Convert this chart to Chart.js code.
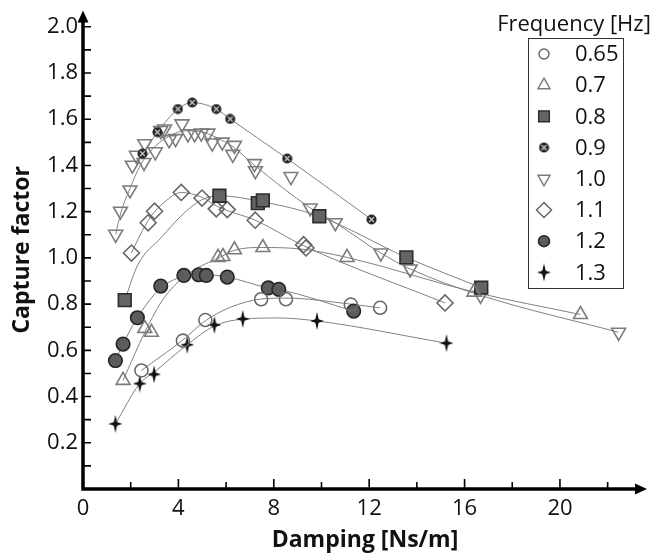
<!DOCTYPE html>
<html lang="en">
<head>
  <meta charset="UTF-8">
  <title>Capture factor vs damping</title>
  <script src="https://cdn.jsdelivr.net/npm/chart.js"></script>
  <style>
    html, body { margin: 0; padding: 0; background: #fff; }
    #wrap { width: 665px; height: 556px; }
  </style>
</head>
<body>
  <div id="wrap"><canvas id="chart" width="665" height="556"></canvas></div>

  <script>
    // tick labels shown on the axes
    const xTickLabels = ['0', '4', '8', '12', '16', '20'];
    const yTickLabels = ['0.2', '0.4', '0.6', '0.8', '1.0', '1.2', '1.4', '1.6', '1.8', '2.0'];

    // wave frequency [Hz] of each series
    const freqLabels = ['0.65', '0.7', '0.8', '0.9', '1.0', '1.1', '1.2', '1.3'];

    // measured points: [damping Ns/m, capture factor]
    const pts065 = [[2.45, 0.513], [4.19, 0.642], [5.13, 0.731], [7.47, 0.821], [8.51, 0.821], [11.23, 0.798], [12.46, 0.784]];
    const pts07 = [[1.68, 0.47], [2.59, 0.695], [2.87, 0.678], [5.66, 1.002], [5.87, 1.006], [6.35, 1.035], [7.54, 1.045], [11.07, 1.002], [16.39, 0.852], [20.86, 0.755]];
    const pts08 = [[1.75, 0.817], [5.72, 1.269], [7.33, 1.237], [7.54, 1.249], [9.91, 1.18], [13.56, 1.002], [16.7, 0.871]];
    const pts09 = [[2.49, 1.451], [3.12, 1.544], [3.98, 1.644], [4.58, 1.672], [5.59, 1.644], [6.17, 1.601], [8.56, 1.43], [12.1, 1.166]];
    const pts10 = [[1.37, 1.102], [1.57, 1.202], [1.97, 1.294], [2.07, 1.401], [2.24, 1.444], [2.56, 1.413], [2.59, 1.494], [3.03, 1.459],
                   [3.26, 1.551], [3.42, 1.558], [3.61, 1.511], [3.88, 1.516], [4.15, 1.58], [4.4, 1.537], [4.68, 1.537], [4.96, 1.54],
                   [5.24, 1.54], [5.42, 1.497], [5.84, 1.501], [6.35, 1.487], [6.28, 1.448], [7.19, 1.408], [7.23, 1.377], [8.72, 1.352],
                   [9.53, 1.216], [10.58, 1.152], [12.49, 1.021], [13.72, 0.952], [16.67, 0.838], [22.46, 0.678]];
    const pts11 = [[2.03, 1.021], [2.73, 1.152], [3.0, 1.202], [4.12, 1.283], [4.99, 1.259], [5.59, 1.212], [6.05, 1.209], [7.22, 1.163], [9.25, 1.057], [9.35, 1.043], [15.18, 0.805]];
    const pts12 = [[1.36, 0.556], [1.68, 0.627], [2.28, 0.741], [3.26, 0.878], [4.23, 0.924], [4.85, 0.927], [5.17, 0.924], [6.05, 0.917], [7.77, 0.87], [8.21, 0.864], [11.35, 0.77]];
    const pts13 = [[1.36, 0.282], [2.38, 0.456], [2.98, 0.496], [4.37, 0.624], [5.51, 0.71], [6.7, 0.736], [9.81, 0.727], [15.24, 0.631]];

    // fitted trend curves
    const fit065 = [[2.45, 0.513], [4.19, 0.645], [5.13, 0.728], [6.2, 0.787], [7.47, 0.822], [8.5, 0.826], [11.23, 0.8], [12.46, 0.784]];
    const fit07 = [[1.68, 0.47], [2.6, 0.68], [3.42, 0.83], [4.54, 0.94], [5.7, 1.0], [6.35, 1.033], [7.5, 1.045], [9.16, 1.038], [11.07, 1.002], [16.4, 0.852], [20.86, 0.755]];
    const fit08 = [[1.75, 0.817], [2.3, 0.97], [3.3, 1.09], [4.1, 1.18], [4.95, 1.25], [5.72, 1.269], [7.4, 1.245], [9.91, 1.18], [13.56, 1.002], [16.7, 0.871]];
    const fit09 = [[2.49, 1.451], [3.12, 1.544], [3.98, 1.644], [4.58, 1.672], [5.59, 1.644], [6.17, 1.601], [8.56, 1.43], [12.1, 1.166]];
    const fit10 = [[1.37, 1.102], [1.6, 1.2], [1.97, 1.3], [2.4, 1.4], [2.9, 1.47], [3.5, 1.52], [4.3, 1.55], [5.0, 1.545], [5.8, 1.51],
                   [6.3, 1.48], [7.2, 1.4], [9.53, 1.216], [10.58, 1.152], [12.49, 1.021], [13.72, 0.952], [16.67, 0.838], [22.46, 0.678]];
    const fit11 = [[2.03, 1.021], [2.4, 1.1], [2.85, 1.18], [3.4, 1.24], [4.12, 1.283], [4.99, 1.262], [5.59, 1.225], [6.05, 1.205], [7.22, 1.163], [9.3, 1.05], [15.18, 0.805]];
    const fit12 = [[1.36, 0.556], [1.68, 0.627], [2.28, 0.741], [3.26, 0.87], [4.23, 0.92], [5.0, 0.928], [6.05, 0.917], [7.77, 0.87], [8.21, 0.864], [11.35, 0.77]];
    const fit13 = [[1.36, 0.282], [2.38, 0.456], [2.98, 0.505], [4.37, 0.624], [5.51, 0.705], [6.7, 0.735], [8.2, 0.74], [9.81, 0.727], [15.24, 0.631]];

    // custom markers
    function makeStar() {
      const c = document.createElement('canvas');
      c.width = 14; c.height = 18;
      const g = c.getContext('2d');
      const cx = 7, cy = 9, i = 1.7;
      g.fillStyle = '#111';
      g.beginPath();
      g.moveTo(cx, 0);
      g.lineTo(cx + i, cy - i);
      g.lineTo(14, cy);
      g.lineTo(cx + i, cy + i);
      g.lineTo(cx, 18);
      g.lineTo(cx - i, cy + i);
      g.lineTo(0, cy);
      g.lineTo(cx - i, cy - i);
      g.closePath();
      g.fill();
      return c;
    }
    function makeCrossDot() {
      const c = document.createElement('canvas');
      c.width = 11; c.height = 11;
      const g = c.getContext('2d');
      g.fillStyle = '#222';
      g.beginPath();
      g.arc(5.5, 5.5, 5, 0, Math.PI * 2);
      g.fill();
      g.strokeStyle = '#cfcfcf';
      g.lineWidth = 1.2;
      g.beginPath();
      g.moveTo(3, 3); g.lineTo(8, 8);
      g.moveTo(8, 3); g.lineTo(3, 8);
      g.stroke();
      return c;
    }
    const starImg = makeStar();
    const crossImg = makeCrossDot();

    const none = 'rgba(0,0,0,0)';
    const series = [
      { pts: pts065, fit: fit065, style: 'circle', r: 6.5, lr: 5, fill: none, stroke: '#6a6a6a' },
      { pts: pts07, fit: fit07, style: 'triangle', r: 8, lr: 7, fill: none, stroke: '#7c7c7c' },
      { pts: pts08, fit: fit08, style: 'rect', r: 9, lr: 7.5, fill: '#646464', stroke: '#2c2c2c' },
      { pts: pts09, fit: fit09, style: crossImg, r: 5, lr: 5, fill: '#222', stroke: '#222' },
      { pts: pts10, fit: fit10, style: 'triangle', rot: 180, r: 8, lr: 7, fill: none, stroke: '#7c7c7c' },
      { pts: pts11, fit: fit11, style: 'rectRot', r: 8, lr: 7.5, fill: none, stroke: '#666' },
      { pts: pts12, fit: fit12, style: 'circle', r: 6.8, lr: 5.5, fill: '#5c5c5c', stroke: '#262626' },
      { pts: pts13, fit: fit13, style: starImg, r: 8, lr: 8, fill: '#111', stroke: '#111' }
    ];

    const toXY = arr => arr.map(p => ({ x: p[0], y: p[1] }));

    const datasets = [];
    series.forEach((s, i) => {
      datasets.push({
        data: toXY(s.fit),
        showLine: true,
        borderColor: '#808080',
        borderWidth: 1,
        pointRadius: 0,
        cubicInterpolationMode: 'monotone',
        order: 2
      });
      datasets.push({
        label: freqLabels[i],
        data: toXY(s.pts),
        showLine: false,
        pointStyle: s.style,
        pointRadius: s.r,
        pointRotation: s.rot || 0,
        pointBackgroundColor: s.fill,
        pointBorderColor: s.stroke,
        pointBorderWidth: 1.6,
        order: 1
      });
    });

    // black axes with arrow heads and inward tick marks
    const arrowAxes = {
      id: 'arrowAxes',
      afterDatasetsDraw(chart) {
        const { ctx, chartArea, scales } = chart;
        const { left, right, top, bottom } = chartArea;
        ctx.save();
        ctx.strokeStyle = '#000';
        ctx.fillStyle = '#000';
        ctx.lineWidth = 3.5;
        ctx.beginPath();
        ctx.moveTo(left, bottom + 1.75);
        ctx.lineTo(left, top + 8);
        ctx.moveTo(left - 1.75, bottom);
        ctx.lineTo(right - 8, bottom);
        ctx.stroke();
        ctx.beginPath();
        ctx.moveTo(left, top);
        ctx.lineTo(left - 5.5, top + 12);
        ctx.lineTo(left + 5.5, top + 12);
        ctx.closePath();
        ctx.moveTo(right, bottom);
        ctx.lineTo(right - 12, bottom - 5.5);
        ctx.lineTo(right - 12, bottom + 5.5);
        ctx.closePath();
        ctx.fill();

        ctx.lineWidth = 1.6;
        ctx.beginPath();
        scales.y.ticks.forEach(t => {
          if (t.value <= 0) return;
          const py = scales.y.getPixelForValue(t.value);
          ctx.moveTo(left, py);
          ctx.lineTo(left + 8, py);
        });
        scales.x.ticks.forEach(t => {
          if (t.value <= 0) return;
          const px = scales.x.getPixelForValue(t.value);
          const len = Math.round(t.value) % 4 === 0 ? 10 : 7;
          ctx.moveTo(px, bottom);
          ctx.lineTo(px, bottom - len);
        });
        ctx.stroke();
        ctx.restore();
      }
    };

    // boxed legend with its title above it
    const freqLegend = {
      id: 'freqLegend',
      afterDraw(chart) {
        const ctx = chart.ctx;
        ctx.save();
        ctx.font = "22px 'Open Sans'";
        ctx.fillStyle = '#111';
        ctx.textAlign = 'center';
        ctx.textBaseline = 'alphabetic';
        ctx.fillText('Frequency [Hz]', 574, 31);
        ctx.strokeStyle = '#333';
        ctx.lineWidth = 1;
        ctx.strokeRect(528.5, 38.5, 95, 250);
        series.forEach((s, i) => {
          const cy = 54 + i * 31.2;
          ctx.fillStyle = s.fill;
          ctx.strokeStyle = s.stroke;
          ctx.lineWidth = 1.5;
          Chart.helpers.drawPoint(ctx, { pointStyle: s.style, radius: s.lr, rotation: s.rot || 0, borderWidth: 1.5 }, 544, cy);
          ctx.fillStyle = '#111';
          ctx.textAlign = 'left';
          ctx.textBaseline = 'middle';
          ctx.fillText(freqLabels[i], 575, cy + 1);
        });
        ctx.restore();
      }
    };

    Chart.defaults.font.family = "'Open Sans', sans-serif";
    Chart.defaults.color = '#111';

    new Chart(document.getElementById('chart'), {
      type: 'scatter',
      data: { datasets },
      options: {
        responsive: false,
        animation: false,
        events: [],
        layout: { padding: { top: 5, right: 18, left: 0, bottom: 0 } },
        plugins: {
          legend: { display: false },
          tooltip: { enabled: false }
        },
        scales: {
          x: {
            type: 'linear',
            min: 0,
            max: 23.65,
            afterFit: s => { s.height = 67; s.paddingLeft = 0; s.paddingRight = 0; },
            grid: { display: false, drawTicks: false },
            border: { display: false },
            ticks: {
              stepSize: 2,
              includeBounds: false,
              autoSkip: false,
              maxRotation: 0,
              padding: 7,
              font: { size: 22 },
              callback: v => (xTickLabels.includes(String(v)) ? String(v) : '')
            },
            title: {
              display: true,
              text: 'Damping [Ns/m]',
              font: { size: 23, weight: 'bold' },
              padding: { top: 0, bottom: 2 }
            }
          },
          y: {
            type: 'linear',
            min: 0,
            max: 2.07,
            afterFit: s => { s.width = 83; s.paddingTop = 0; s.paddingBottom = 0; },
            grid: { display: false, drawTicks: false },
            border: { display: false },
            ticks: {
              stepSize: 0.1,
              includeBounds: false,
              autoSkip: false,
              padding: 5,
              font: { size: 22 },
              callback: v => {
                const s = v.toFixed(1);
                return yTickLabels.includes(s) ? s : '';
              }
            },
            title: {
              display: true,
              text: 'Capture factor',
              font: { size: 23, weight: 'bold' },
              padding: { top: 9, bottom: 0 }
            }
          }
        }
      },
      plugins: [arrowAxes, freqLegend]
    });
  </script>
</body>
</html>
